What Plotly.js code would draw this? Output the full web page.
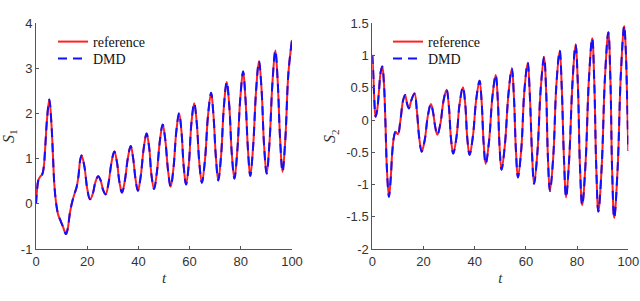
<!DOCTYPE html>
<html>
<head>
<meta charset="utf-8">
<script src="https://cdn.plot.ly/plotly-3.0.1.min.js"></script>
<style>html,body{margin:0;padding:0;background:#fff;}#chart{width:640px;height:301px;}</style>
</head>
<body>
<div id="chart"></div>
<script>
// ---- data ----
const seriesNames = ["reference", "DMD"];

const tS1 = [0, 0.4, 0.9, 1.6, 2.4, 3.0, 3.6, 4.3, 5.2, 6.0, 6.6, 7.2, 7.9, 8.7, 9.5, 10.5, 11.1, 11.7, 12.4, 13.3, 14.3, 15.2, 15.9, 16.6, 17.2, 17.8,
  18.9, 20.0, 21.1, 22.2, 23.2, 24.3, 25.3, 26.2, 27.2, 28.3, 29.5, 30.6, 31.6, 32.6, 33.6, 34.7, 35.9, 37.0, 37.9, 38.9, 39.8,
  40.9, 42.1, 43.2, 44.2, 45.1, 46.1, 47.2, 48.4, 49.5, 50.5, 51.6, 52.6, 53.7, 54.8, 55.9, 56.8, 57.7, 58.6, 59.7, 60.7, 61.8,
  62.8, 63.8, 64.8, 66.0, 67.2, 68.4, 69.3, 70.3, 71.2, 72.3, 73.4, 74.5, 75.5, 76.5, 77.5, 78.6, 79.8, 80.9, 81.8, 82.8, 83.7,
  84.8, 86.0, 87.1, 88.1, 89.1, 90.1, 91.2, 92.4, 93.5, 94.4, 95.4, 96.3, 97.4, 98.6, 100];
const s1 = [0, 0.3, 0.52, 0.6, 0.65, 0.8, 1.25, 1.87, 2.31, 1.8, 1.1, 0.4, 0.0, -0.25, -0.36, -0.5, -0.6, -0.67, -0.55, -0.18, 0.08, 0.25, 0.38, 0.62, 0.95, 1.07,
  0.83, 0.34, 0.10, 0.23, 0.48, 0.61, 0.51, 0.31, 0.21, 0.45, 0.92, 1.16, 0.93, 0.48, 0.25, 0.51, 1.02, 1.28, 1.03, 0.54, 0.29,
  0.61, 1.24, 1.56, 1.25, 0.64, 0.33, 0.69, 1.40, 1.76, 1.42, 0.73, 0.38, 0.79, 1.60, 2.01, 1.62, 0.83, 0.43, 0.88, 1.78, 2.23,
  1.79, 0.91, 0.47, 0.97, 1.96, 2.46, 1.98, 1.01, 0.52, 1.07, 2.16, 2.70, 2.17, 1.10, 0.56, 1.15, 2.34, 2.93, 2.35, 1.20, 0.62,
  1.26, 2.53, 3.16, 2.54, 1.29, 0.67, 1.35, 2.72, 3.40, 2.73, 1.38, 0.71, 1.44, 2.90, 3.63];

const tS2 = [0, 0.4, 0.8, 1.3, 1.9, 2.6, 3.3, 3.9, 4.5, 5.1, 5.7, 6.5, 7.2, 7.8, 8.5, 9.1, 10.0, 11.0, 12.0, 12.8, 13.6, 14.3, 15.2, 16.5, 17.4, 18.4, 19.3,
  20.5, 21.7, 22.9, 23.7, 24.6, 25.4, 26.6, 27.8, 29.0, 29.9, 30.7, 31.6, 32.9, 34.1, 35.4, 36.3, 37.1, 38.0, 39.3, 40.6, 41.9,
  42.7, 43.5, 44.3, 45.6, 46.9, 48.2, 49.0, 49.7, 50.5, 51.8, 53.2, 54.5, 55.3, 56.1, 56.9, 58.2, 59.4, 60.7, 61.5, 62.4, 63.2,
  64.5, 65.8, 67.1, 67.9, 68.6, 69.4, 70.7, 71.9, 73.2, 74.0, 74.9, 75.7, 76.9, 78.2, 79.4, 80.3, 81.1, 82.0, 83.3, 84.6, 85.9,
  86.7, 87.5, 88.3, 89.6, 90.9, 92.2, 93.0, 93.7, 94.5, 95.8, 97.1, 98.4, 99.0, 99.5, 100];
const s2 = [1.01, 0.7, 0.3, 0.05, 0.15, 0.45, 0.75, 0.83, 0.6, 0.0, -0.75, -1.19, -0.9, -0.5, -0.25, -0.18, -0.22, 0.0, 0.3, 0.39, 0.25, 0.18, 0.3, 0.41, 0.15, -0.3, -0.49,
  -0.305, 0.065, 0.25, 0.13, -0.11, -0.23, -0.055, 0.295, 0.47, 0.22, -0.27, -0.52, -0.26, 0.25, 0.51, 0.25, -0.28, -0.54, -0.25, 0.32, 0.61,
  0.29, -0.36, -0.68, -0.33, 0.35, 0.70, 0.33, -0.40, -0.77, -0.38, 0.41, 0.80, 0.38, -0.47, -0.89, -0.45, 0.45, 0.89, 0.42, -0.52, -0.99,
  -0.50, 0.49, 0.98, 0.46, -0.58, -1.10, -0.56, 0.54, 1.08, 0.51, -0.63, -1.20, -0.61, 0.58, 1.17, 0.55, -0.70, -1.32, -0.67, 0.62, 1.27,
  0.60, -0.75, -1.42, -0.73, 0.67, 1.36, 0.64, -0.80, -1.52, -0.78, 0.72, 1.46, 1.10, 0.40, -0.48];

const xTickVals = [0, 20, 40, 60, 80, 100];
const xTickText = ["0", "20", "40", "60", "80", "100"];
const y1TickVals = [-1, 0, 1, 2, 3, 4];
const y1TickText = ["-1", "0", "1", "2", "3", "4"];
const y2TickVals = [-2, -1.5, -1, -0.5, 0, 0.5, 1, 1.5];
const y2TickText = ["-2", "-1.5", "-1", "-0.5", "0", "0.5", "1", "1.5"];
const y1Title = "<i>S</i><sub>1</sub>";
const y2Title = "<i>S</i><sub>2</sub>";
const xTitle = "<i>t</i>";

// ---- styling ----
const W = 640, H = 301;
const RED = "#ff2020", BLUE = "#1010ff";
const serif = "Liberation Serif, DejaVu Serif, serif";
const sans = "Liberation Sans, Arial, sans-serif";
const axisCol = "#555555", textCol = "#333333";

function refTrace(x, y, xa, ya, lg) {
  return {x: x, y: y, xaxis: xa, yaxis: ya, legend: lg, type: "scatter", mode: "lines", name: seriesNames[0],
    line: {color: RED, width: 2, shape: "spline", smoothing: 1.1}};
}
function dmdTrace(x, y, xa, ya, lg) {
  return {x: x, y: y, xaxis: xa, yaxis: ya, legend: lg, type: "scatter", mode: "lines", name: seriesNames[1],
    line: {color: BLUE, width: 2, dash: "9px,6px", shape: "spline", smoothing: 1.1}};
}

const data = [
  refTrace(tS1, s1, "x", "y", "legend"),
  dmdTrace(tS1, s1, "x", "y", "legend2"),
  refTrace(tS2, s2, "x2", "y2", "legend3"),
  dmdTrace(tS2, s2, "x2", "y2", "legend4")
];

function xax(domain, anchor) {
  return {domain: domain, anchor: anchor, range: [0, 100], tickvals: xTickVals, ticktext: xTickText,
    showline: true, linecolor: axisCol, linewidth: 1, ticks: "inside", ticklen: 3, tickcolor: axisCol,
    showgrid: false, zeroline: false, ticklabeloverflow: "allow",
    tickfont: {family: sans, size: 13, color: textCol},
    title: {text: xTitle, font: {family: serif, size: 15, color: textCol}, standoff: 4}};
}
function yax(domain, anchor, range, tv, tt, title) {
  return {domain: domain, anchor: anchor, range: range, tickvals: tv, ticktext: tt,
    showline: true, linecolor: axisCol, linewidth: 1, ticks: "inside", ticklen: 3, tickcolor: axisCol,
    showgrid: false, zeroline: false, tickfont: {family: sans, size: 13, color: textCol},
    title: {text: title, font: {family: serif, size: 16, color: textCol}, standoff: 6}};
}
function leg(xpx, ypx) {
  return {x: xpx / W, y: 1 - ypx / H, xanchor: "left", yanchor: "top", bgcolor: "rgba(0,0,0,0)",
    font: {family: serif, size: 14, color: "#111"}, itemwidth: 30};
}

const yDom = [1 - 249 / H, 1 - 23.3 / H];
const layout = {
  width: W, height: H, margin: {l: 0, r: 0, t: 0, b: 0},
  paper_bgcolor: "#ffffff", plot_bgcolor: "#ffffff", showlegend: true,
  xaxis: xax([36 / W, 292 / W], "y"),
  yaxis: yax(yDom, "x", [-1, 4], y1TickVals, y1TickText, y1Title),
  xaxis2: xax([372.3 / W, 628.3 / W], "y2"),
  yaxis2: yax(yDom, "x2", [-2, 1.5], y2TickVals, y2TickText, y2Title),
  legend: leg(53, 26),
  legend2: leg(53, 43),
  legend3: leg(388, 26),
  legend4: leg(388, 43)
};

Plotly.newPlot("chart", data, layout, {staticPlot: true, displayModeBar: false});
</script>
</body>
</html>
